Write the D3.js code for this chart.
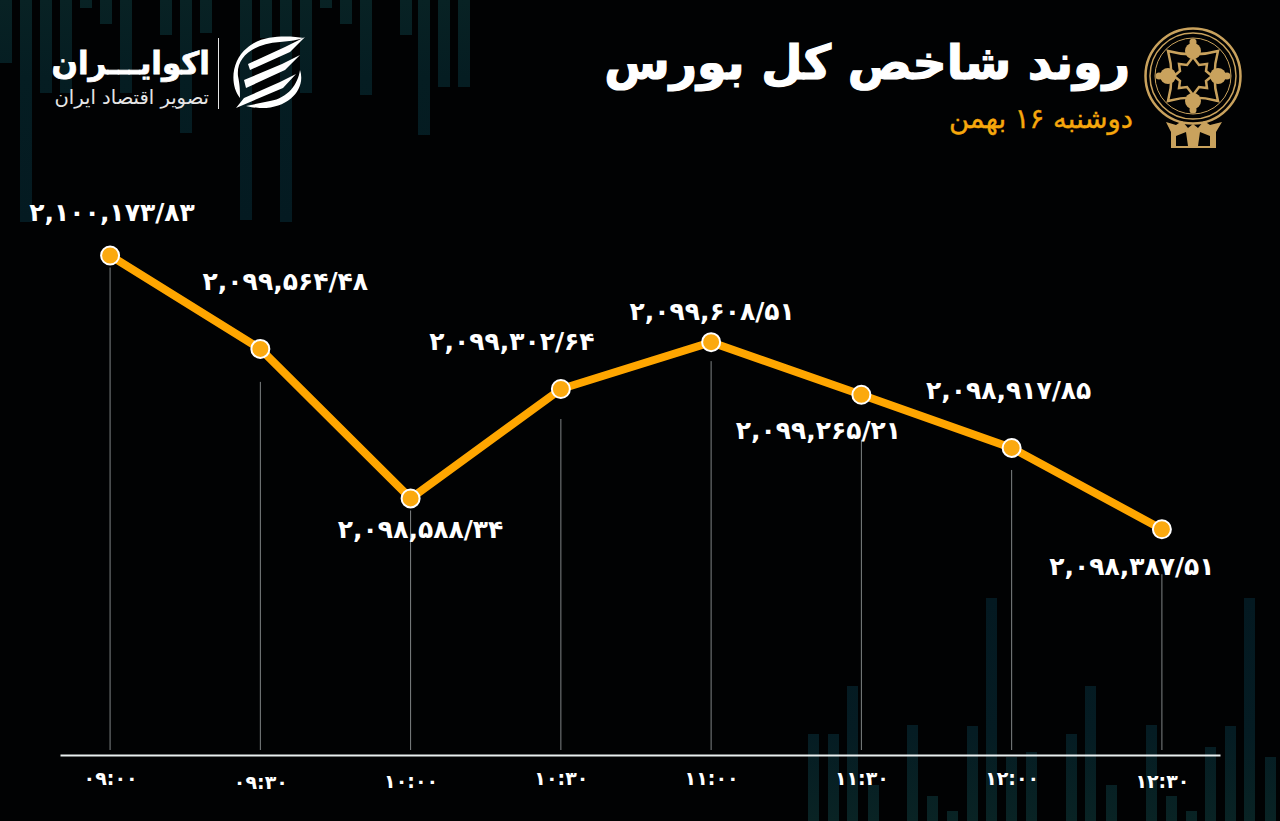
<!DOCTYPE html>
<html><head><meta charset="utf-8">
<script src="https://cdn.jsdelivr.net/npm/d3@7/dist/d3.min.js"></script>
<style>html,body{margin:0;padding:0;background:#010203;overflow:hidden}svg{display:block}
text{font-family:"DejaVu Sans",sans-serif}</style></head>
<body><svg id="c" width="1280" height="821"></svg>
<script>
// ---- data ----
const timeLabels=["۰۹:۰۰","۰۹:۳۰","۱۰:۰۰","۱۰:۳۰","۱۱:۰۰","۱۱:۳۰","۱۲:۰۰","۱۲:۳۰"];
const minutes=[540,570,600,630,660,690,720,750];
const indexValues=[2100173.83,2099564.48,2098588.34,2099302.64,2099608.51,2099265.21,2098917.85,2098387.51];
const titleText="روند شاخص کل بورس";
const subtitleText="دوشنبه ۱۶ بهمن";
const brandText="اکوایـــران";
const brandSub="تصویر اقتصاد ایران";
// decorative backdrop columns [start, length]
const topCols=[[0,63],[20,222],[40,93],[60,93],[80,8],[100,24],[120,93],[160,35],[180,133],[200,33],[240,220],[260,38],[280,222],[300,93],[320,8],[340,24],[360,95],[400,35],[418,135],[438,87],[458,87]];
const bottomCols=[[808,87],[828,87],[847,135],[868,36],[907,96],[927,25],[947,10],[967,95],[986,223],[1006,64],[1026,69],[1066,87],[1085,135],[1106,36],[1146,96],[1166,25],[1186,10],[1205,74],[1225,95],[1244,223],[1265,64]];

// ---- layout ----
const W=1280,H=821,baseY=755;
const labelDx=[2,25,10,-49,1,-43,-3,-30];
const labelDy=[-44,-68,31,-48,-31,35,-58,37];
const dropGap=[12,33,12,30,19,45,22,45];
const tickDy=[0,4,3,0,0,0,0,3];

const svg=d3.select("#c");
const defs=svg.append("defs");
const g1=defs.append("linearGradient").attr("id","colTop").attr("gradientUnits","userSpaceOnUse").attr("x1",0).attr("x2",0).attr("y1",0).attr("y2",222);
g1.append("stop").attr("offset",0).attr("stop-color","#082224");
g1.append("stop").attr("offset",.35).attr("stop-color","#051d22");
g1.append("stop").attr("offset",1).attr("stop-color","#041a21");
const g2=defs.append("linearGradient").attr("id","colBot").attr("gradientUnits","userSpaceOnUse").attr("x1",0).attr("x2",0).attr("y1",598).attr("y2",821);
g2.append("stop").attr("offset",0).attr("stop-color","#041921");
g2.append("stop").attr("offset",.6).attr("stop-color","#051c23");
g2.append("stop").attr("offset",1).attr("stop-color","#092324");

svg.append("g").selectAll("rect").data(topCols).join("rect")
  .attr("x",d=>d[0]).attr("y",0).attr("width",12).attr("height",d=>d[1]).attr("fill","url(#colTop)");
svg.append("g").selectAll("rect").data(bottomCols).join("rect")
  .attr("x",d=>d[0]).attr("y",d=>H-d[1]).attr("width",11).attr("height",d=>d[1]).attr("fill","url(#colBot)");

const x=d3.scaleLinear().domain([530,761.6]).range([60,1220]);
const y=d3.scaleLinear().domain([2096914,2100200]).range([baseY,251.5]);
const rows=minutes.map((m,i)=>({m,v:indexValues[i],i}));

// drop lines
svg.append("g").selectAll("line").data(rows).join("line")
  .attr("x1",d=>x(d.m)).attr("x2",d=>x(d.m))
  .attr("y1",d=>y(d.v)+dropGap[d.i]).attr("y2",baseY-5)
  .attr("stroke","#7f8485").attr("stroke-width",1);

// axis
const axis=d3.axisBottom(x).tickValues(minutes).tickSize(0).tickPadding(0)
  .tickFormat((d,i)=>timeLabels[i]);
const ax=svg.append("g").attr("transform",`translate(0,${baseY})`).call(axis);
ax.select(".domain").attr("stroke","#e9eff0").attr("stroke-width",2);
ax.selectAll("text").attr("fill","#fff").attr("font-size",19).attr("font-weight",700)
  .attr("font-family","DejaVu Sans").attr("direction","ltr")
  .attr("y",(d,i)=>30+tickDy[i]).attr("dy",0);

// line + points
const line=d3.line().x(d=>x(d.m)).y(d=>y(d.v));
svg.append("path").datum(rows).attr("d",line).attr("fill","none")
  .attr("stroke","#ffa600").attr("stroke-width",8).attr("stroke-linejoin","miter");
svg.append("g").selectAll("circle").data(rows).join("circle")
  .attr("cx",d=>x(d.m)).attr("cy",d=>y(d.v)).attr("r",9)
  .attr("fill","#fba90f").attr("stroke","#fff").attr("stroke-width",2);

// value labels
const fa=s=>s.replace(/\d/g,c=>"۰۱۲۳۴۵۶۷۸۹"[+c]).replace(".","/");
const fmt=d3.format(",.2f");
svg.append("g").selectAll("text").data(rows).join("text")
  .attr("x",d=>x(d.m)+labelDx[d.i]).attr("y",d=>y(d.v)+labelDy[d.i]+9)
  .attr("text-anchor","middle").attr("direction","ltr")
  .attr("fill","#fff").attr("font-size",25).attr("font-weight",700)
  .text(d=>fa(fmt(d.v)));

// headings
svg.append("text").attr("x",1130).attr("y",79).attr("text-anchor","start").attr("direction","rtl")
  .attr("fill","#fff").attr("stroke","#fff").attr("stroke-width",1.2).attr("font-size",47.5).attr("font-weight",700).text(titleText);
svg.append("text").attr("x",1133).attr("y",128).attr("text-anchor","start").attr("direction","rtl")
  .attr("fill","#f6a70c").attr("stroke","#f6a70c").attr("stroke-width",.4).attr("font-size",27.5).text(subtitleText);
svg.append("text").attr("x",210).attr("y",74).attr("text-anchor","start").attr("direction","rtl")
  .attr("fill","#fff").attr("stroke","#fff").attr("stroke-width",.8).attr("font-size",31).attr("font-weight",700).text(brandText);
svg.append("text").attr("x",209).attr("y",104).attr("text-anchor","start").attr("direction","rtl")
  .attr("fill","#e6e6e6").attr("font-size",19.5).text(brandSub);
svg.append("rect").attr("x",218).attr("y",38).attr("width",1).attr("height",71).attr("fill","#e6e6e6");

// brand mark
const m=svg.append("g").attr("fill","#fff");
m.append("path").attr("d","M304 38 C290 36 262 34 247 48 C232 60 229 84 240 98 C240 90 240 86 238 76 C236 58 252 44 280 42 C290 41 298 40 304 38Z");
m.append("path").attr("d","M305 37 L290 52 L250 70 L248 64 L285 47Z");
m.append("path").attr("d","M300 55 L285 70 L246 88 L244 80 L282 64Z");
m.append("path").attr("d","M296 74 L283 88 L236 108 L244 98 L280 82Z");
m.append("path").attr("d","M300 70 C306 88 290 108 262 108 C254 108 250 107 246 106 L270 101 C288 98 298 84 300 70Z");

// exchange emblem
const gold="#c9a25d";
const e=svg.append("g").attr("transform","translate(1193,76)").attr("fill","none").attr("stroke",gold);
[[47.5,2.5],[43,1.5],[38,1]].forEach(([r,w])=>e.append("circle").attr("r",r).attr("stroke-width",w));
e.append("path").attr("stroke-width",2.5)
  .attr("d","M-25 -25 Q0 -18 25 -25 Q18 0 25 25 Q0 18 -25 25 Q-18 0 -25 -25Z");
e.append("path").attr("stroke-width",2.5)
  .attr("d","M0 -19 L6 -11 L14 -12 L13 -5 L19 0 L13 5 L14 12 L6 11 L0 19 L-6 11 L-14 12 L-13 5 L-19 0 L-13 -5 L-14 -12 L-6 -11Z");
[[0,-1],[1,0],[0,1],[-1,0]].forEach(([a,b])=>{
  e.append("circle").attr("cx",a*25).attr("cy",b*25).attr("r",8).attr("fill",gold).attr("stroke","none");
  e.append("circle").attr("cx",a*34).attr("cy",b*34).attr("r",3.5).attr("fill",gold).attr("stroke","none");
});
const b=svg.append("g").attr("fill",gold);
b.append("path").attr("d","M1166 122 L1176 125 L1182 121 L1188 128 L1193 124 L1198 128 L1204 121 L1210 125 L1222 122 L1216 132 L1216 148 L1171 148 L1171 132Z");
b.append("path").attr("fill","#010203").attr("d","M1176 136 L1186 132 L1188 146 L1176 146Z M1200 132 L1210 136 L1210 146 L1198 146Z");
</script></body></html>
